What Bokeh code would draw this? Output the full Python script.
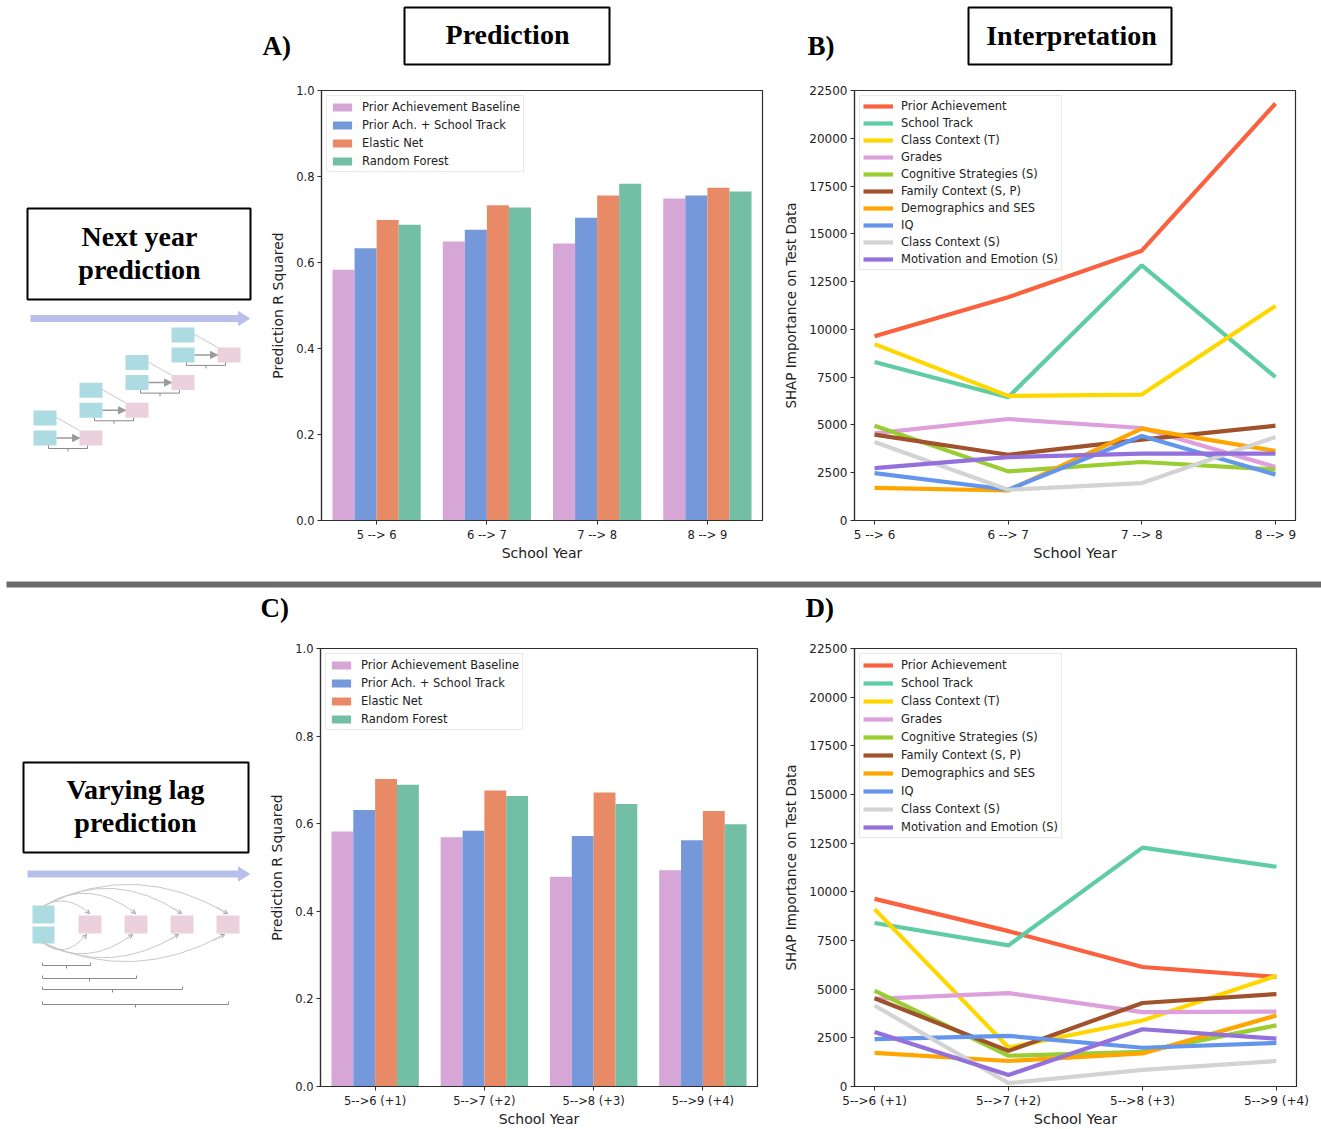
from bokeh.plotting import figure
from bokeh.layouts import row, column
from bokeh.models import (ColumnDataSource, FactorRange, Range1d, FixedTicker,
                          PrintfTickFormatter, Legend, LegendItem, Arrow,
                          NormalHead, OpenHead)
from bokeh.transform import dodge
from bokeh.core.properties import value
from bokeh.embed import file_html
from bokeh.resources import INLINE

# ---------------------------------------------------------------- data
years_next = ["5 --> 6", "6 --> 7", "7 --> 8", "8 --> 9"]
years_lag = ["5-->6 (+1)", "5-->7 (+2)", "5-->8 (+3)", "5-->9 (+4)"]

models = ["Prior Achievement Baseline", "Prior Ach. + School Track",
          "Elastic Net", "Random Forest"]
model_colors = ["#d5a6d6", "#7598db", "#e88a65", "#72bfa5"]

# R squared, next-year prediction
r2_next_baseline = [0.583, 0.649, 0.644, 0.749]
r2_next_track = [0.633, 0.676, 0.704, 0.756]
r2_next_enet = [0.699, 0.733, 0.756, 0.774]
r2_next_rf = [0.688, 0.728, 0.783, 0.765]

# R squared, varying-lag prediction
r2_lag_baseline = [0.582, 0.569, 0.479, 0.494]
r2_lag_track = [0.631, 0.584, 0.572, 0.562]
r2_lag_enet = [0.702, 0.676, 0.671, 0.629]
r2_lag_rf = [0.689, 0.663, 0.645, 0.599]

features = ["Prior Achievement", "School Track", "Class Context (T)", "Grades",
            "Cognitive Strategies (S)", "Family Context (S, P)",
            "Demographics and SES", "IQ", "Class Context (S)",
            "Motivation and Emotion (S)"]
feature_colors = ["#f9613f", "#5fcca6", "#ffd700", "#dda0dd", "#9acd32",
                  "#a0522d", "#ffa500", "#6495ed", "#d3d3d3", "#9370db"]

# SHAP importance, next-year prediction
shap_next_prior = [9640, 11680, 14120, 21820]
shap_next_track = [8290, 6450, 13350, 7500]
shap_next_class_t = [9230, 6520, 6590, 11230]
shap_next_grades = [4560, 5310, 4840, 2800]
shap_next_cognitive = [4960, 2570, 3060, 2660]
shap_next_family = [4490, 3440, 4230, 4960]
shap_next_demographics = [1710, 1570, 4810, 3640]
shap_next_iq = [2480, 1610, 4420, 2400]
shap_next_class_s = [4110, 1610, 1960, 4370]
shap_next_motivation = [2740, 3320, 3500, 3500]

# SHAP importance, varying-lag prediction
shap_lag_prior = [9640, 7980, 6140, 5630]
shap_lag_track = [8400, 7250, 12270, 11290]
shap_lag_class_t = [9110, 2000, 3390, 5690]
shap_lag_grades = [4500, 4800, 3820, 3850]
shap_lag_cognitive = [4920, 1580, 1780, 3140]
shap_lag_family = [4530, 1830, 4290, 4750]
shap_lag_demographics = [1730, 1310, 1700, 3650]
shap_lag_iq = [2430, 2600, 1990, 2240]
shap_lag_class_s = [4160, 170, 850, 1310]
shap_lag_motivation = [2800, 590, 2940, 2460]

r2_ticks = [0.0, 0.2, 0.4, 0.6, 0.8, 1.0]
shap_ticks = [0, 2500, 5000, 7500, 10000, 12500, 15000, 17500, 20000, 22500]

# ---------------------------------------------------------------- styling
INK = "#2e2e2e"
TXT = "#222222"
SANS = "DejaVu Sans"
SERIF = "Liberation Serif"


def style_axes(p, tick_size, xtitle_size, ytitle_size, xlabel, ylabel):
    p.xgrid.visible = False
    p.ygrid.visible = False
    p.outline_line_color = INK
    p.outline_line_width = 1.2
    p.background_fill_color = "white"
    p.border_fill_color = "white"
    for ax in (p.xaxis[0], p.yaxis[0]):
        ax.axis_line_color = INK
        ax.axis_line_width = 1.2
        ax.major_tick_line_color = INK
        ax.major_tick_in = 0
        ax.major_tick_out = 4
        ax.minor_tick_line_color = None
        ax.major_label_text_font = SANS
        ax.major_label_text_font_size = tick_size
        ax.major_label_text_color = TXT
        ax.major_label_standoff = 3
        ax.axis_label_text_font = SANS
        ax.axis_label_text_font_style = "normal"
        ax.axis_label_text_color = TXT
    p.xaxis.axis_label = xlabel
    p.yaxis.axis_label = ylabel
    p.xaxis.axis_label_text_font_size = xtitle_size
    p.yaxis.axis_label_text_font_size = ytitle_size
    p.yaxis.axis_label_standoff = 7
    p.xaxis.axis_label_standoff = 0


def add_legend(p, items, glyph_w, glyph_h, label_h, spacing):
    lg = Legend(items=items, location="top_left")
    lg.margin = 5
    lg.padding = 3
    lg.spacing = spacing
    lg.glyph_width = glyph_w
    lg.glyph_height = glyph_h
    lg.label_height = label_h
    lg.label_standoff = 8
    lg.label_text_font = SANS
    lg.label_text_font_size = "11.5px"
    lg.label_text_color = TXT
    lg.border_line_color = "#d4d4d4"
    lg.border_line_width = 1
    lg.background_fill_color = "white"
    lg.background_fill_alpha = 0.85
    p.add_layout(lg)


def bar_panel(years, series, height, left, right, top, bottom, label_h, spacing):
    p = figure(width=528, height=height, x_range=FactorRange(*years),
               y_range=Range1d(0, 1), output_backend="svg",
               toolbar_location=None, min_border_left=left,
               min_border_right=right, min_border_top=top,
               min_border_bottom=bottom)
    data = {"year": years}
    for i, vals in enumerate(series):
        data["m%d" % i] = vals
    src = ColumnDataSource(data)
    items = []
    for i, (name, col) in enumerate(zip(models, model_colors)):
        r = p.vbar(x=dodge("year", -0.3 + 0.2 * i, range=p.x_range),
                   top="m%d" % i, width=0.2, source=src,
                   fill_color=col, line_color=None)
        items.append(LegendItem(label=name, renderers=[r]))
    style_axes(p, "11.5px", "14px", "14px", "School Year",
               "Prediction R Squared")
    p.yaxis.ticker = FixedTicker(ticks=r2_ticks)
    p.yaxis.formatter = PrintfTickFormatter(format="%.1f")
    add_legend(p, items, 24, 10, label_h, spacing)
    return p


def line_panel(years, series, height, left, right, top, bottom, label_h, spacing):
    p = figure(width=541, height=height, x_range=Range1d(-0.15, 3.15),
               y_range=Range1d(0, 22500), output_backend="svg",
               toolbar_location=None, min_border_left=left,
               min_border_right=right, min_border_top=top,
               min_border_bottom=bottom)
    xs = list(range(len(years)))
    items = []
    for name, col, vals in zip(features, feature_colors, series):
        r = p.line(xs, vals, line_color=col, line_width=4.2)
        items.append(LegendItem(label=name, renderers=[r]))
    style_axes(p, "12px", "14.5px", "13.5px", "School Year",
               "SHAP Importance on Test Data")
    p.xaxis.ticker = FixedTicker(ticks=xs)
    p.xaxis.major_label_overrides = {i: lab for i, lab in enumerate(years)}
    p.yaxis.ticker = FixedTicker(ticks=shap_ticks)
    p.yaxis.formatter = PrintfTickFormatter(format="%d")
    add_legend(p, items, 30, 14, label_h, spacing)
    return p


def canvas(w, h):
    p = figure(width=w, height=h, x_range=Range1d(0, w), y_range=Range1d(h, 0),
               output_backend="svg", toolbar_location=None, min_border=0,
               x_axis_type=None, y_axis_type=None)
    p.grid.visible = False
    p.outline_line_color = None
    p.background_fill_color = "white"
    p.border_fill_color = "white"
    return p


def serif(p, xs, ys, texts, size="28px", align="center"):
    p.text(x=xs, y=ys, text=texts, text_font=value(SERIF),
           text_font_style="bold", text_font_size=size, text_align=align,
           text_baseline="alphabetic", text_color="black")


def boxed(p, l, r, t, b):
    p.quad(left=[l], right=[r], top=[t], bottom=[b], fill_color="white",
           line_color="black", line_width=2)


TEAL = "#acdbe1"
PINK = "#ead1dc"
TIMELINE = "#b8bfea"
GREY = "#9a9a9a"
LIGHT = "#c8c8c8"
RULE = "#6b6b6b"


def timeline(p, x0, x1, y):
    p.line([x0, x1 - 9], [y, y], line_color=TIMELINE, line_width=7)
    p.patch([x1 - 11, x1 - 11, x1], [y - 7, y + 7, y], fill_color=TIMELINE,
            line_color=TIMELINE)


def brace(p, x0, x1, y):
    xm = (x0 + x1) / 2
    p.multi_line([[x0, x0, x1, x1], [xm, xm]], [[y - 3, y, y, y - 3], [y, y + 3]],
                 line_color="#8a8a8a", line_width=1)


# ---------------------------------------------------------------- next-year scheme
deco_top = canvas(252, 578)
boxed(deco_top, 27, 250, 208, 299)
serif(deco_top, [139, 139], [236, 269], ["Next year", "prediction"])
timeline(deco_top, 30, 249, 318)
for k in range(4):
    bx = 33 + 46 * k
    by = 410 - 27.7 * k
    deco_top.quad(left=[bx, bx], right=[bx + 23, bx + 23],
                  top=[by, by + 20], bottom=[by + 15, by + 35],
                  fill_color=TEAL, line_color=None)
    deco_top.quad(left=[bx + 46], right=[bx + 69], top=[by + 20],
                  bottom=[by + 35], fill_color=PINK, line_color=None)
    deco_top.line([bx + 23, bx + 46], [by + 7, by + 20], line_color=LIGHT,
                  line_width=1)
    deco_top.add_layout(Arrow(end=NormalHead(size=7, fill_color=GREY,
                                             line_color=GREY),
                              x_start=bx + 23, y_start=by + 27.5,
                              x_end=bx + 46, y_end=by + 27.5,
                              line_color=GREY, line_width=1.5))
    brace(deco_top, bx + 15, bx + 54, by + 38)

# ---------------------------------------------------------------- varying-lag scheme
deco_bot = canvas(252, 539)
boxed(deco_bot, 23, 248, 172, 262)
serif(deco_bot, [135, 135], [199, 232], ["Varying lag", "prediction"])
timeline(deco_bot, 27, 249, 283.5)
deco_bot.quad(left=[32, 32], right=[54, 54], top=[315, 336], bottom=[333, 353],
              fill_color=TEAL, line_color=None)
pink_left = [78, 124, 170, 216]
deco_bot.quad(left=pink_left, right=[v + 23 for v in pink_left],
              top=[325] * 4, bottom=[343] * 4, fill_color=PINK, line_color=None)
upper_peak = [311, 303, 298, 294]
lower_peak = [359, 363, 367, 371]
for pl, up, lo in zip(pink_left, upper_peak, lower_peak):
    ex = pl + 11
    ux0, uy0, uy1 = 44, 315, 323
    ucx, ucy = (ux0 + ex) / 2, 2 * up - 0.5 * (uy0 + uy1)
    deco_bot.quadratic(x0=[ux0], y0=[uy0], x1=[ex], y1=[uy1], cx=[ucx], cy=[ucy],
                       line_color=LIGHT, line_width=1)
    deco_bot.add_layout(Arrow(end=OpenHead(size=4, line_color=GREY, line_width=1),
                              x_start=ex - 0.12 * (ex - ucx),
                              y_start=uy1 - 0.12 * (uy1 - ucy),
                              x_end=ex, y_end=uy1, line_color=LIGHT,
                              line_width=1))
    lx0, ly0, lx1, ly1 = 42, 352, pl + 8, 344
    lcx, lcy = (lx0 + lx1) / 2, 2 * lo - 0.5 * (ly0 + ly1)
    deco_bot.quadratic(x0=[lx0], y0=[ly0], x1=[lx1], y1=[ly1], cx=[lcx], cy=[lcy],
                       line_color=LIGHT, line_width=1)
    deco_bot.add_layout(Arrow(end=OpenHead(size=4, line_color=GREY, line_width=1),
                              x_start=lx1 - 0.12 * (lx1 - lcx),
                              y_start=ly1 - 0.12 * (ly1 - lcy),
                              x_end=lx1, y_end=ly1, line_color=LIGHT,
                              line_width=1))
for pl, yb in zip(pink_left, [375, 388, 399, 414]):
    brace(deco_bot, 42, pl + 12, yb)

# ---------------------------------------------------------------- headers and rule
hdr_top = canvas(1069, 85)
serif(hdr_top, [10, 555], [45, 45], ["A)", "B)"], size="27px", align="left")
boxed(hdr_top, 152, 357, 7, 64)
boxed(hdr_top, 716, 919, 7, 64)
serif(hdr_top, [255, 819], [34, 35], ["Prediction", "Interpretation"])

hdr_mid = canvas(1069, 50)
serif(hdr_mid, [8, 553], [17, 17], ["C)", "D)"], size="27px", align="left")

rule = canvas(1321, 12)
rule.quad(left=[6], right=[1321], top=[3], bottom=[9], fill_color=RULE,
          line_color=None)

# ---------------------------------------------------------------- panels
fig_a = bar_panel(years_next, [r2_next_baseline, r2_next_track, r2_next_enet,
                               r2_next_rf],
                  493, 69, 18, 5, 58, 15, 3)
fig_b = line_panel(years_next, [shap_next_prior, shap_next_track,
                                shap_next_class_t, shap_next_grades,
                                shap_next_cognitive, shap_next_family,
                                shap_next_demographics, shap_next_iq,
                                shap_next_class_s, shap_next_motivation],
                   493, 71, 26, 5, 58, 14, 3)
fig_c = bar_panel(years_lag, [r2_lag_baseline, r2_lag_track, r2_lag_enet,
                              r2_lag_rf],
                  489, 68, 23, 8, 40, 15, 3)
fig_d = line_panel(years_lag, [shap_lag_prior, shap_lag_track, shap_lag_class_t,
                               shap_lag_grades, shap_lag_cognitive,
                               shap_lag_family, shap_lag_demographics,
                               shap_lag_iq, shap_lag_class_s,
                               shap_lag_motivation],
                   489, 69, 25, 8, 40, 15, 3)

layout = column(
    row(deco_top, column(hdr_top, row(fig_a, fig_b))),
    rule,
    row(deco_bot, column(hdr_mid, row(fig_c, fig_d))),
)

open("out.html", "w").write(file_html(layout, INLINE))
